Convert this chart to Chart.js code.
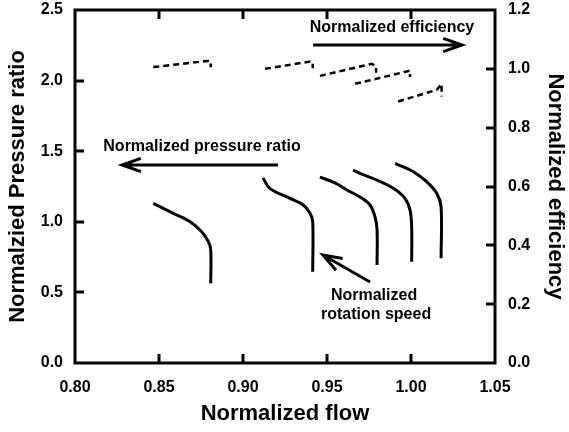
<!DOCTYPE html>
<html>
<head>
<meta charset="utf-8">
<script src="https://cdn.jsdelivr.net/npm/chart.js@4"></script>
<style>
  html, body { margin: 0; padding: 0; background: #fff; }
  #wrap { width: 569px; height: 432px; }
</style>
</head>
<body>
<div id="wrap"><canvas id="mapChart" width="569" height="432"></canvas></div>
<script>
// Compressor map: pressure ratio (solid) and efficiency (dashed) vs flow

// pressure ratio speed lines
const flowS1 = [0.8466, 0.8585, 0.8685, 0.8754, 0.8794, 0.8808, 0.8808];
const prS1 = [1.131, 1.060, 1.001, 0.930, 0.859, 0.800, 0.564];
const flowS2 = [0.9119, 0.9161, 0.9280, 0.9359, 0.9399, 0.9415, 0.9415];
const prS2 = [1.31, 1.235, 1.166, 1.119, 1.060, 1.001, 0.647];
const flowS3 = [0.9458, 0.9548, 0.9619, 0.9696, 0.9756, 0.9786, 0.9798, 0.9798];
const prS3 = [1.317, 1.275, 1.225, 1.176, 1.119, 1.034, 0.942, 0.694];
const flowS4 = [0.9655, 0.9696, 0.9796, 0.9895, 0.9964, 0.9994, 1.0004, 1.0004];
const prS4 = [1.367, 1.343, 1.296, 1.237, 1.166, 1.084, 0.965, 0.717];
const flowS5 = [0.9905, 1.0014, 1.0093, 1.0153, 1.0179, 1.0179];
const prS5 = [1.414, 1.355, 1.284, 1.202, 1.107, 0.742];

// efficiency lines
const flowE1 = [0.8466, 0.8790, 0.8808, 0.8808];
const effE1 = [1.006, 1.027, 1.025, 1.005];
const flowE2 = [0.9131, 0.9400, 0.9415, 0.9415];
const effE2 = [1.000, 1.025, 1.023, 1.002];
const flowE3 = [0.9458, 0.9766, 0.9792, 0.9792];
const effE3 = [0.976, 1.017, 1.010, 0.987];
const flowE4 = [0.9667, 0.9974, 0.9994, 0.9994];
const effE4 = [0.949, 0.991, 0.994, 0.972];
const flowE5 = [0.9923, 1.0155, 1.0182, 1.0182];
const effE5 = [0.889, 0.929, 0.949, 0.906];

// notes (flow, pressure ratio coordinates)
const noteLabels = ['Normalized efficiency', 'Normalized pressure ratio', 'Normalized', 'rotation speed'];
const noteX = [0.9887, 0.8756, 0.978, 0.9792];
const noteY = [2.373, 1.530, 0.4745, 0.340];
const arrowFrom = [[0.9417, 2.252], [0.9208, 1.402], [0.9756, 0.5737]];
const arrowTo = [[1.0304, 2.252], [0.828, 1.402], [0.9476, 0.7649]];

const pts = (xs, ys) => xs.map((x, i) => ({ x: x, y: ys[i] }));

const solid = (xs, ys) => ({
  data: pts(xs, ys), yAxisID: 'y', showLine: true, pointRadius: 0,
  borderColor: '#000', borderWidth: 3, fill: false, tension: 0.35
});
const dashed = (xs, ys) => ({
  data: pts(xs, ys), yAxisID: 'y2', showLine: true, pointRadius: 0,
  borderColor: '#000', borderWidth: 2.5, borderDash: [6, 4], fill: false
});

const boldFont = 'bold 16px "Liberation Sans", Arial, sans-serif';

// frame, inward ticks, arrows and notes
const decor = {
  id: 'decor',
  afterDraw(chart) {
    const c = chart.ctx, a = chart.chartArea;
    const sx = chart.scales.x, sy = chart.scales.y, sy2 = chart.scales.y2;
    const tl = 9;
    c.save();
    c.strokeStyle = '#000';
    c.lineWidth = 3;
    c.lineCap = 'butt';
    c.beginPath();
    sx.ticks.forEach(t => {
      const px = Math.round(sx.getPixelForValue(t.value));
      if (px <= a.left + 2 || px >= a.right - 2) return;
      c.moveTo(px, a.bottom); c.lineTo(px, a.bottom - tl);
      c.moveTo(px, a.top); c.lineTo(px, a.top + tl);
    });
    sy.ticks.forEach(t => {
      const py = Math.round(sy.getPixelForValue(t.value));
      if (py <= a.top + 2 || py >= a.bottom - 2) return;
      c.moveTo(a.left, py); c.lineTo(a.left + tl, py);
    });
    sy2.ticks.forEach(t => {
      const py = Math.round(sy2.getPixelForValue(t.value));
      if (py <= a.top + 2 || py >= a.bottom - 2) return;
      c.moveTo(a.right, py); c.lineTo(a.right - tl, py);
    });
    c.stroke();
    c.strokeRect(a.left, a.top, a.right - a.left, a.bottom - a.top);

    // arrows
    c.lineWidth = 3;
    arrowFrom.forEach((f, i) => {
      const x1 = sx.getPixelForValue(f[0]), y1 = sy.getPixelForValue(f[1]);
      const x2 = sx.getPixelForValue(arrowTo[i][0]), y2 = sy.getPixelForValue(arrowTo[i][1]);
      const ang = Math.atan2(y2 - y1, x2 - x1);
      const hl = 20, hw = 0.34;
      c.beginPath();
      c.moveTo(x1, y1); c.lineTo(x2, y2);
      c.moveTo(x2 - hl * Math.cos(ang - hw), y2 - hl * Math.sin(ang - hw));
      c.lineTo(x2, y2);
      c.lineTo(x2 - hl * Math.cos(ang + hw), y2 - hl * Math.sin(ang + hw));
      c.stroke();
    });

    // notes
    c.fillStyle = '#000';
    c.font = boldFont;
    c.textAlign = 'center';
    c.textBaseline = 'middle';
    noteLabels.forEach((s, i) => {
      c.fillText(s, sx.getPixelForValue(noteX[i]), sy.getPixelForValue(noteY[i]));
    });
    c.restore();
  }
};

const tickFont = { family: '"Liberation Sans", Arial, sans-serif', size: 16, weight: 'bold' };
const titleFont = { family: '"Liberation Sans", Arial, sans-serif', size: 22, weight: 'bold' };

const fitVertical = w => s => { s.width = w; s.paddingTop = 10; s.paddingBottom = 0; };

new Chart(document.getElementById('mapChart').getContext('2d'), {
  type: 'scatter',
  data: {
    datasets: [
      solid(flowS1, prS1), solid(flowS2, prS2), solid(flowS3, prS3),
      solid(flowS4, prS4), solid(flowS5, prS5),
      dashed(flowE1, effE1), dashed(flowE2, effE2), dashed(flowE3, effE3),
      dashed(flowE4, effE4), dashed(flowE5, effE5)
    ]
  },
  options: {
    responsive: false,
    animation: false,
    layout: { padding: 0 },
    plugins: { legend: { display: false }, tooltip: { enabled: false } },
    scales: {
      x: {
        type: 'linear', min: 0.8, max: 1.05,
        grid: { display: false, drawTicks: false },
        border: { display: false },
        ticks: { stepSize: 0.05, color: '#000', font: tickFont, padding: 15,
                 maxRotation: 0, callback: v => v.toFixed(2) },
        title: { display: true, text: 'Normalized flow', color: '#000', font: titleFont,
                 padding: { top: 3, bottom: 5 } },
        afterFit: s => { s.height = 69; }
      },
      y: {
        position: 'left', min: 0, max: 2.5,
        grid: { display: false, drawTicks: false },
        border: { display: false },
        ticks: { stepSize: 0.5, color: '#000', font: tickFont, padding: 12,
                 callback: v => v.toFixed(1) },
        title: { display: true, text: 'Normalzied Pressure ratio', color: '#000', font: titleFont,
                 padding: { top: 5, bottom: 3 } },
        afterFit: fitVertical(75)
      },
      y2: {
        position: 'right', min: 0, max: 1.2,
        grid: { display: false, drawTicks: false },
        border: { display: false },
        ticks: { stepSize: 0.2, color: '#000', font: tickFont, padding: 13,
                 callback: v => v.toFixed(1) },
        title: { display: true, text: 'Normalized efficiency', color: '#000', font: titleFont,
                 padding: { top: 1, bottom: 3 } },
        afterFit: fitVertical(74)
      }
    }
  },
  plugins: [decor]
});
</script>
</body>
</html>
